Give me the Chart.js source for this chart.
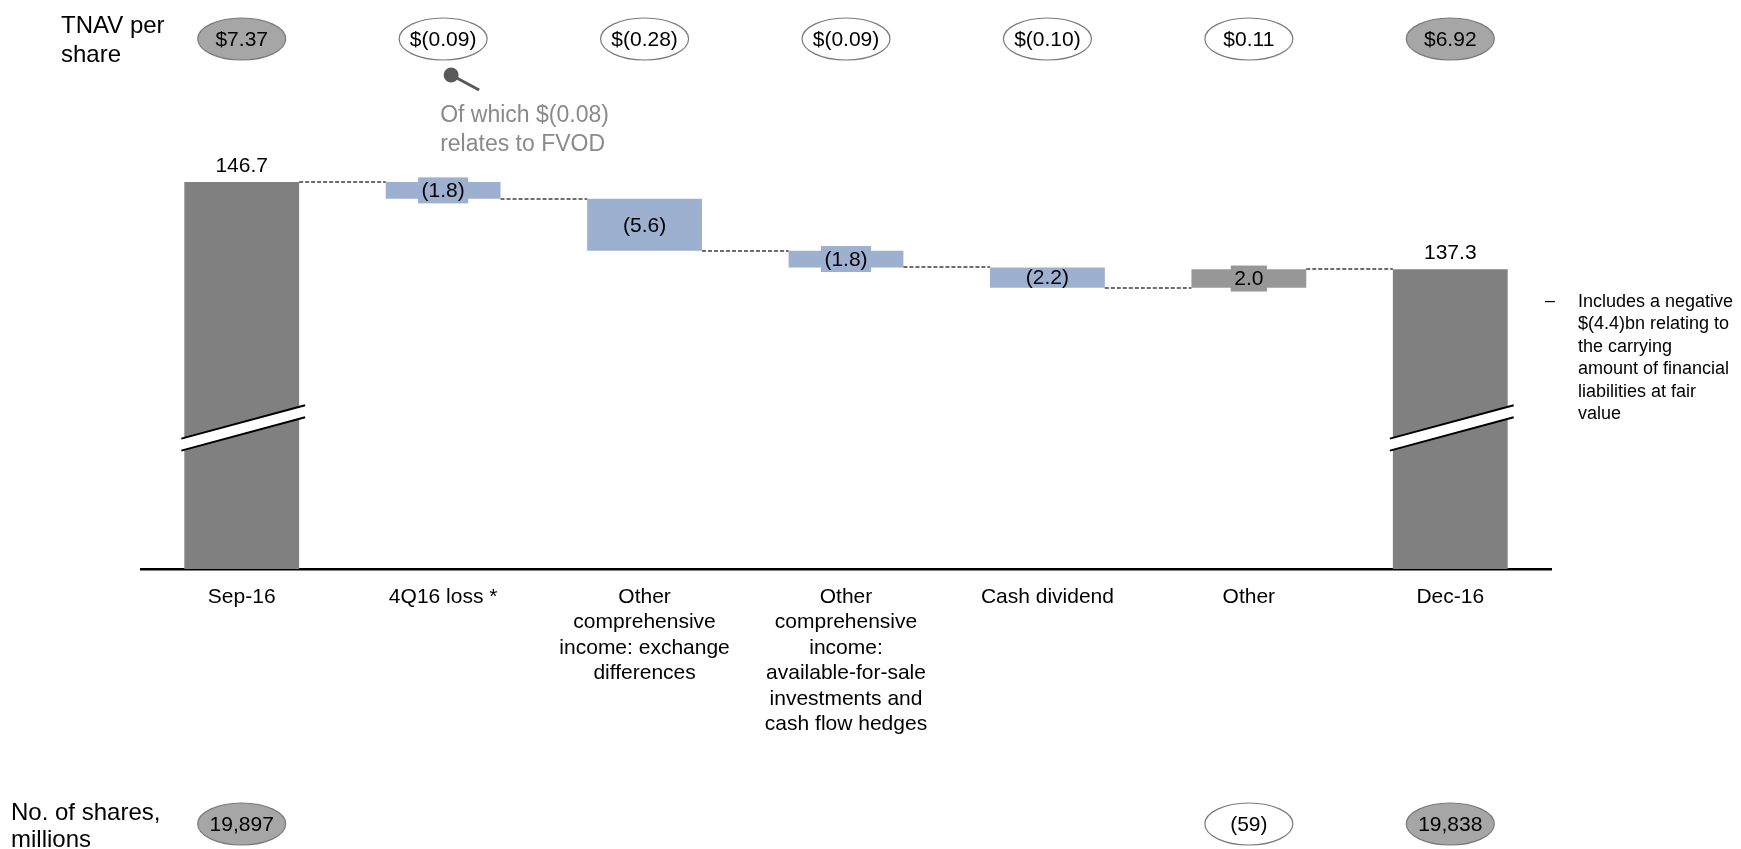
<!DOCTYPE html>
<html><head><meta charset="utf-8">
<script src="https://cdn.jsdelivr.net/npm/chart.js@4/dist/chart.umd.min.js"></script>
<style>html,body{margin:0;padding:0;background:#fff;overflow:hidden}canvas{display:block}</style>
</head><body>
<canvas id="c" width="1741" height="849"></canvas>
<script>
// ---- data ----
const categories = [
  ["Sep-16"],
  ["4Q16 loss *"],
  ["Other", "comprehensive", "income: exchange", "differences"],
  ["Other", "comprehensive", "income:", "available-for-sale", "investments and", "cash flow hedges"],
  ["Cash dividend"],
  ["Other"],
  ["Dec-16"]
];
const startTotal = 146.7;                         // Sep-16, $bn
const changes = [null, -1.8, -5.6, -1.8, -2.2, 2.0, null];
const endTotal = 137.3;                           // Dec-16, $bn
const valueLabels = ["146.7", "(1.8)", "(5.6)", "(1.8)", "(2.2)", "2.0", "137.3"];
const tnavPerShare = ["$7.37", "$(0.09)", "$(0.28)", "$(0.09)", "$(0.10)", "$0.11", "$6.92"];
const sharesMillions = ["19,897", "", "", "", "", "(59)", "19,838"];
const fvodNote = ["Of which $(0.08)", "relates to FVOD"];
const sideNote = ["Includes a negative", "$(4.4)bn relating to", "the carrying", "amount of financial", "liabilities at fair", "value"];
const axisBreakValue = 120.2;
const yMin = 105, yMax = 155;

// ---- build waterfall ranges ----
const barData = [];
const levels = [];
let running = startTotal;
categories.forEach((c, i) => {
  if (i === 0) { barData.push(startTotal); running = startTotal; }
  else if (i === categories.length - 1) { barData.push(endTotal); running = endTotal; }
  else { barData.push([running, running + changes[i]]); running = running + changes[i]; }
  levels.push(running);
});
const COL_TOTAL = '#808080', COL_DOWN = '#9eb0cf', COL_UP = '#979797';
const barColors = barData.map((d, i) => Array.isArray(d) ? (changes[i] < 0 ? COL_DOWN : COL_UP) : COL_TOTAL);

const FONT = '"Liberation Sans", Arial, Helvetica, sans-serif';

const decor = {
  id: 'decor',
  afterDatasetsDraw(chart) {
    const ctx = chart.ctx;
    const meta = chart.getDatasetMeta(0);
    const ys = chart.scales.y;
    const els = meta.data;
    ctx.save();
    // connectors
    ctx.strokeStyle = '#6e6e6e'; ctx.lineWidth = 1.8; ctx.setLineDash([4, 2]);
    for (let i = 0; i < els.length - 1; i++) {
      const a = els[i], b = els[i + 1];
      const y = Math.round(ys.getPixelForValue(levels[i]));
      ctx.beginPath();
      ctx.moveTo(a.x + a.width / 2, y);
      ctx.lineTo(b.x - b.width / 2, y);
      ctx.stroke();
    }
    ctx.setLineDash([]);
    // axis breaks on totals
    const yb = ys.getPixelForValue(axisBreakValue);
    els.forEach((el, i) => {
      if (Array.isArray(barData[i])) return;
      const l = el.x - el.width / 2 - 3, r = el.x + el.width / 2 + 6;
      const cx = (l + r) / 2, slope = -0.27, half = 6;
      const yAt = x => yb + (x - cx) * slope;
      ctx.fillStyle = '#fff';
      ctx.beginPath();
      ctx.moveTo(l, yAt(l) - half); ctx.lineTo(r, yAt(r) - half);
      ctx.lineTo(r, yAt(r) + half); ctx.lineTo(l, yAt(l) + half);
      ctx.closePath(); ctx.fill();
      ctx.strokeStyle = '#000'; ctx.lineWidth = 2;
      ctx.beginPath(); ctx.moveTo(l, yAt(l) - half); ctx.lineTo(r, yAt(r) - half); ctx.stroke();
      ctx.beginPath(); ctx.moveTo(l, yAt(l) + half); ctx.lineTo(r, yAt(r) + half); ctx.stroke();
    });
    // value labels
    ctx.font = '21px ' + FONT;
    ctx.textAlign = 'center'; ctx.textBaseline = 'middle';
    els.forEach((el, i) => {
      const txt = valueLabels[i];
      if (!Array.isArray(barData[i])) {
        ctx.fillStyle = '#000';
        ctx.fillText(txt, el.x, el.y - 16);
      } else {
        const top = Math.min(el.y, el.base), bot = Math.max(el.y, el.base);
        const cy = (top + bot) / 2;
        if (bot - top < 20) {
          const w = ctx.measureText(txt).width + 7;
          ctx.fillStyle = barColors[i];
          ctx.fillRect(el.x - w / 2, cy - 13, w, 26);
        }
        ctx.fillStyle = '#000';
        ctx.fillText(txt, el.x, cy + 1);
      }
    });
    ctx.restore();
  },
  afterDraw(chart) {
    const ctx = chart.ctx;
    const xs = chart.scales.x;
    ctx.save();
    const ell = (x, y, txt, filled) => {
      ctx.beginPath();
      ctx.ellipse(x, y, 44, 21, 0, 0, Math.PI * 2);
      ctx.fillStyle = filled ? '#a6a6a6' : '#fff';
      ctx.fill();
      ctx.strokeStyle = '#7a7a7a'; ctx.lineWidth = 1.2; ctx.stroke();
      ctx.fillStyle = '#000';
      ctx.font = '21px ' + FONT; ctx.textAlign = 'center'; ctx.textBaseline = 'middle';
      ctx.fillText(txt, x, y + 1);
    };
    const last = categories.length - 1;
    tnavPerShare.forEach((t, i) => { if (t) ell(xs.getPixelForValue(i), 39, t, i === 0 || i === last); });
    sharesMillions.forEach((t, i) => { if (t) ell(xs.getPixelForValue(i), 824, t, i === 0 || i === last); });
    // row titles
    ctx.fillStyle = '#000'; ctx.font = '24px ' + FONT; ctx.textAlign = 'left'; ctx.textBaseline = 'alphabetic';
    ctx.fillText('TNAV per', 61, 33);
    ctx.fillText('share', 61, 62);
    ctx.fillText('No. of shares,', 11, 820);
    ctx.fillText('millions', 11, 847);
    // FVOD pin + note
    const c1 = xs.getPixelForValue(1);
    ctx.strokeStyle = '#595959'; ctx.lineWidth = 3;
    ctx.beginPath(); ctx.moveTo(c1 + 8, 75); ctx.lineTo(c1 + 36, 90); ctx.stroke();
    ctx.fillStyle = '#595959';
    ctx.beginPath(); ctx.arc(c1 + 8, 75, 7.5, 0, Math.PI * 2); ctx.fill();
    ctx.fillStyle = '#8a8a8a'; ctx.font = '23px ' + FONT;
    ctx.fillText(fvodNote[0], c1 - 3, 122);
    ctx.fillText(fvodNote[1], c1 - 3, 151);
    // side note
    ctx.fillStyle = '#000'; ctx.font = '18px ' + FONT; ctx.textBaseline = 'middle';
    ctx.fillText('\u2013', 1545, 301);
    sideNote.forEach((t, i) => ctx.fillText(t, 1578, 302 + i * 22.4));
    ctx.restore();
  }
};

new Chart(document.getElementById('c'), {
  type: 'bar',
  data: {
    labels: categories,
    datasets: [{
      data: barData,
      backgroundColor: barColors,
      borderWidth: 0,
      borderSkipped: false,
      barPercentage: 1.0,
      categoryPercentage: 0.57
    }]
  },
  options: {
    responsive: false,
    animation: false,
    devicePixelRatio: 1,
    layout: { padding: { left: 141, right: 190, top: 105, bottom: 0 } },
    plugins: { legend: { display: false }, tooltip: { enabled: false } },
    scales: {
      x: {
        z: 1,
        grid: { display: false, drawTicks: false },
        border: { display: true, color: '#000', width: 2.5 },
        ticks: {
          color: '#000', padding: 15, autoSkip: false, maxRotation: 0, minRotation: 0,
          font: { family: FONT, size: 21, lineHeight: 25.5 / 21 }
        },
        afterFit(scale) { scale.height = 280; }
      },
      y: { display: false, min: yMin, max: yMax }
    }
  },
  plugins: [decor]
});
</script>
</body></html>
